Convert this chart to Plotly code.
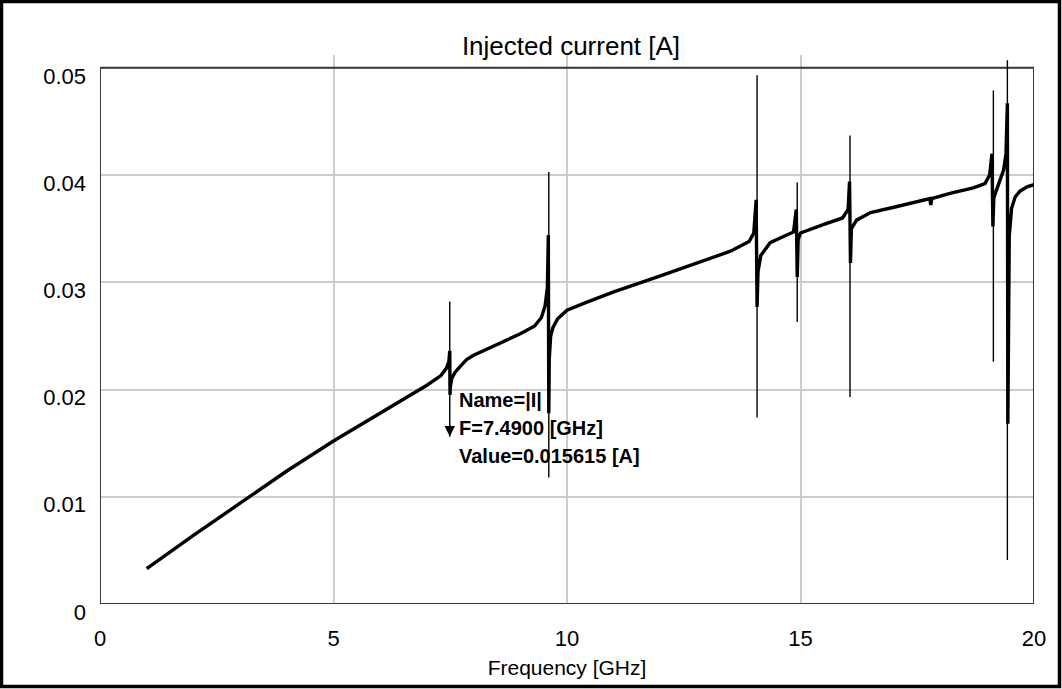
import plotly.graph_objects as go

# ---- data ----
freq_ghz = [1.0, 2.0, 3.0, 4.0, 5.0, 6.0, 6.5, 7.0, 7.3, 7.42, 7.47, 7.49, 7.495, 7.50, 7.53,
            7.6, 7.7, 7.85, 8.0, 8.5, 9.0, 9.3, 9.45, 9.53, 9.58, 9.60, 9.61, 9.62, 9.65,
            9.7, 9.8, 10.0, 10.4, 10.7, 11.0, 12.0, 13.0, 13.5, 13.9, 14.0, 14.05, 14.07,
            14.09, 14.15, 14.35, 14.6, 14.85, 14.91, 14.93, 14.95, 15.0, 15.5, 15.9, 16.02,
            16.05, 16.07, 16.09, 16.2, 16.5, 17.0, 17.5, 17.77, 17.79, 17.81, 18.2, 18.7,
            18.95, 19.05, 19.1, 19.12, 19.14, 19.25, 19.35, 19.4, 19.43, 19.44, 19.47,
            19.52, 19.6, 19.7, 19.85, 20.0]
current_a = [0.0033, 0.0064, 0.0094, 0.0124, 0.0152, 0.0178, 0.0191, 0.0204, 0.0213, 0.0220,
             0.0226, 0.0236, 0.0195, 0.0202, 0.0210,
             0.0216, 0.0221, 0.0228, 0.0232, 0.0242, 0.0252, 0.0259, 0.0267, 0.0278, 0.0295,
             0.0344, 0.0178, 0.0228, 0.0250,
             0.0258, 0.0266, 0.0274, 0.0281, 0.0286, 0.0291, 0.0306, 0.0321, 0.0329, 0.0338,
             0.0346, 0.0377, 0.0277,
             0.0310, 0.0325, 0.0337, 0.0342, 0.0347, 0.0368, 0.0305, 0.0340, 0.0346, 0.0354,
             0.0360, 0.0368,
             0.0394, 0.0318, 0.0350, 0.0358, 0.0365, 0.0370, 0.0375, 0.0378, 0.0372, 0.0378,
             0.0383, 0.0388,
             0.0392, 0.0400, 0.0420, 0.0352, 0.0379, 0.0392, 0.0405, 0.0420, 0.0467, 0.0168,
             0.0343,
             0.0369, 0.0380, 0.0385, 0.0389, 0.0391]

# narrow resonance spikes (single sweep segments)
spike_freq = [7.49, 9.61, 14.07, 14.93, 16.06, 19.13, 19.43]
spike_top = [0.0282, 0.0403, 0.0493, 0.0393, 0.0437, 0.0479, 0.0507]
spike_bottom = [0.0156, 0.0118, 0.0174, 0.0263, 0.0193, 0.0226, 0.0041]

# marker readout
marker_name = "|I|"
marker_freq = 7.49
marker_value = 0.015615

x_ticks = [0, 5, 10, 15, 20]
y_ticks = [0, 0.01, 0.02, 0.03, 0.04, 0.05]
y_ticklabels = ["0", "0.01", "0.02", "0.03", "0.04", "0.05"]

# ---- figure ----
W, H = 1062, 689
ML, MR, MT, MB = 100, 28, 55, 85
PW, PH = W - ML - MR, H - MT - MB

FONT = "Liberation Sans Narrow, Arial Narrow, Liberation Sans, Arial, sans-serif"

sx, sy = [], []
for f, t, b in zip(spike_freq, spike_top, spike_bottom):
    sx += [f, f, None]
    sy += [t, b, None]

fig = go.Figure()
fig.add_trace(go.Scatter(x=freq_ghz, y=current_a, mode="lines",
                         line=dict(color="black", width=3.4), showlegend=False,
                         hoverinfo="skip"))
fig.add_trace(go.Scatter(x=sx, y=sy, mode="lines", connectgaps=False,
                         line=dict(color="black", width=1.4), showlegend=False,
                         hoverinfo="skip"))

fig.update_layout(
    width=W, height=H,
    margin=dict(l=ML, r=MR, t=MT, b=MB),
    paper_bgcolor="white", plot_bgcolor="white",
    title=dict(text="Injected current [A]", x=(ML + PW / 2 + 4) / W, xanchor="center",
               y=1 - 46 / H, yanchor="middle",
               font=dict(family=FONT, size=26, color="black")),
    xaxis=dict(range=[0, 20], tickvals=x_ticks, ticktext=[str(v) for v in x_ticks],
               showgrid=True, gridcolor="#cccccc", gridwidth=1.5, zeroline=False,
               showline=False, ticks="", ticklabelstandoff=19,
               tickfont=dict(family=FONT, size=22, color="black"),
               title=dict(text="Frequency [GHz]", standoff=10,
                          font=dict(family=FONT, size=21, color="black"))),
    yaxis=dict(range=[0, 0.0512], tickvals=y_ticks, ticktext=y_ticklabels,
               showgrid=True, gridcolor="#cccccc", gridwidth=1.5, zeroline=False,
               showline=False, ticks="", ticklabelstandoff=13, ticklabelshift=8,
               tickfont=dict(family=FONT, size=22, color="black")),
)

# plot frame
fig.add_shape(type="rect", xref="x", yref="y", x0=0, x1=20, y0=0, y1=0.05,
              line=dict(color="#3a3a3a", width=2), layer="between")

# outer border around the whole image
def px_to_paper_x(px):
    return (px - ML) / PW

def py_to_paper_y(py):
    return (H - MB - py) / PH

fig.add_shape(type="rect", xref="paper", yref="paper",
              x0=px_to_paper_x(1.5), x1=px_to_paper_x(W - 2.5),
              y0=py_to_paper_y(H - 2.5), y1=py_to_paper_y(1.5),
              line=dict(color="black", width=3.5), layer="above")

# marker arrow
fig.add_annotation(x=marker_freq, y=marker_value, ax=0, ay=-13, text="",
                   showarrow=True, arrowhead=2, arrowsize=1.4, arrowwidth=1.5,
                   arrowcolor="black")
lines = [f"Name={marker_name}", f"F={marker_freq:.4f} [GHz]", f"Value={marker_value:.6f} [A]"]
for i, txt in enumerate(lines):
    fig.add_annotation(x=marker_freq, y=marker_value, text=f"<b>{txt}</b>",
                       showarrow=False, xanchor="left", yanchor="middle",
                       xshift=7, yshift=37 - 28 * i,
                       font=dict(family="Liberation Sans, Arial, sans-serif", size=20,
                                 color="black"))

fig.write_html("out.html")
